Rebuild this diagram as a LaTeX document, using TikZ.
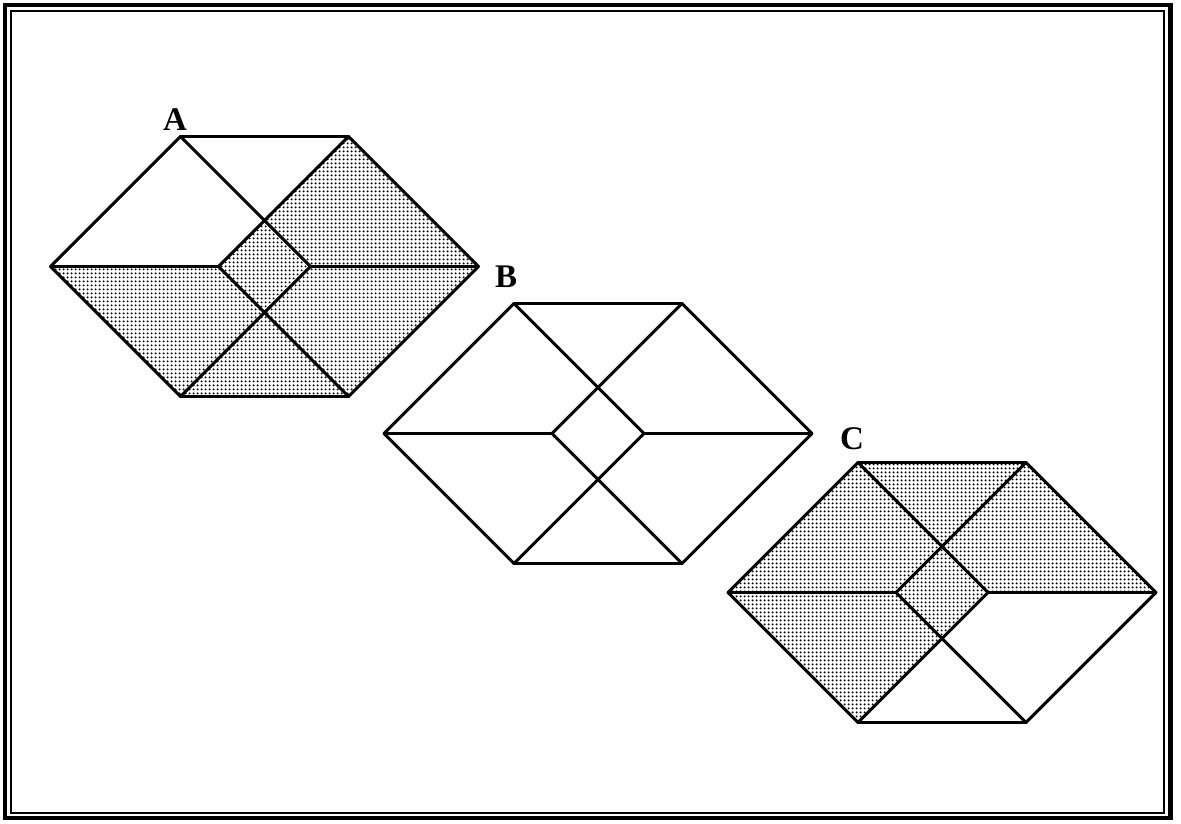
\documentclass[tikz,border=0pt]{standalone}
\usepackage{fontspec}
\setmainfont{Liberation Serif}
\usetikzlibrary{patterns.meta}
\tikzdeclarepattern{
  name=stipple,
  type=uncolored,
  bottom left={(0pt,0pt)},
  top right={(3.6pt,3.6pt)},
  tile size={(3.6pt,3.6pt)},
  code={\fill (1.8pt,1.8pt) circle (1.15pt);}
}
\tikzset{
  edge line/.style={line width=2.9pt, line join=round, line cap=round},
  shaded/.style={pattern={stipple}, pattern color=black},
  label text/.style={font=\bfseries\fontsize{33}{33}\selectfont, anchor=base, inner sep=0pt},
  outer frame/.style={line width=4.5pt},
  inner frame/.style={line width=2pt}
}
\newcommand\defhex[3]{%
  \begin{scope}[shift={(#2,#3)}]
    \coordinate (#1L)  at (-214,0);
    \coordinate (#1TL) at (-84,-130);
    \coordinate (#1TR) at (84,-130);
    \coordinate (#1R)  at (214,0);
    \coordinate (#1BR) at (84,130);
    \coordinate (#1BL) at (-84,130);
    \coordinate (#1SL) at (-46,0);
    \coordinate (#1ST) at (0,-46);
    \coordinate (#1SR) at (46,0);
    \coordinate (#1SB) at (0,46);
  \end{scope}}
\newcommand\hexlines[1]{%
  \draw[edge line] (#1L) -- (#1TL) -- (#1TR) -- (#1R) -- (#1BR) -- (#1BL) -- cycle;
  \draw[edge line] (#1TL) -- (#1SR);
  \draw[edge line] (#1TR) -- (#1SL);
  \draw[edge line] (#1BL) -- (#1SR);
  \draw[edge line] (#1BR) -- (#1SL);
  \draw[edge line] (#1L) -- (#1SL);
  \draw[edge line] (#1SR) -- (#1R);}
\begin{document}
\begin{tikzpicture}[x=1pt,y=-1pt]
\useasboundingbox (0,0) rectangle (1181,823);
\fill[white] (0,0) rectangle (1181,823);
% frame
\draw[outer frame] (5,5) rectangle (1170.5,818);
\draw[inner frame] (10.5,10.5) rectangle (1163.5,812.5);
% hexagon points
\defhex{a}{264.5}{266.5}
\defhex{b}{598}{433.5}
\defhex{c}{942}{592.5}
% shading of A
\fill[shaded] (aTR) -- (aR) -- (aSR) -- (aST) -- cycle;
\fill[shaded] (aSL) -- (aST) -- (aSR) -- (aSB) -- cycle;
\fill[shaded] (aL) -- (aSL) -- (aSB) -- (aBL) -- cycle;
\fill[shaded] (aR) -- (aBR) -- (aSB) -- (aSR) -- cycle;
\fill[shaded] (aBL) -- (aBR) -- (aSB) -- cycle;
% shading of C
\fill[shaded] (cTL) -- (cTR) -- (cST) -- cycle;
\fill[shaded] (cL) -- (cTL) -- (cST) -- (cSL) -- cycle;
\fill[shaded] (cTR) -- (cR) -- (cSR) -- (cST) -- cycle;
\fill[shaded] (cSL) -- (cST) -- (cSR) -- (cSB) -- cycle;
\fill[shaded] (cL) -- (cSL) -- (cSB) -- (cBL) -- cycle;
% lines
\hexlines{a}
\hexlines{b}
\hexlines{c}
% labels
\node[label text] (labA) at (175,130) {A};
\node[label text] (labB) at (506,287) {B};
\node[label text] (labC) at (852,449) {C};
\end{tikzpicture}
\end{document}
